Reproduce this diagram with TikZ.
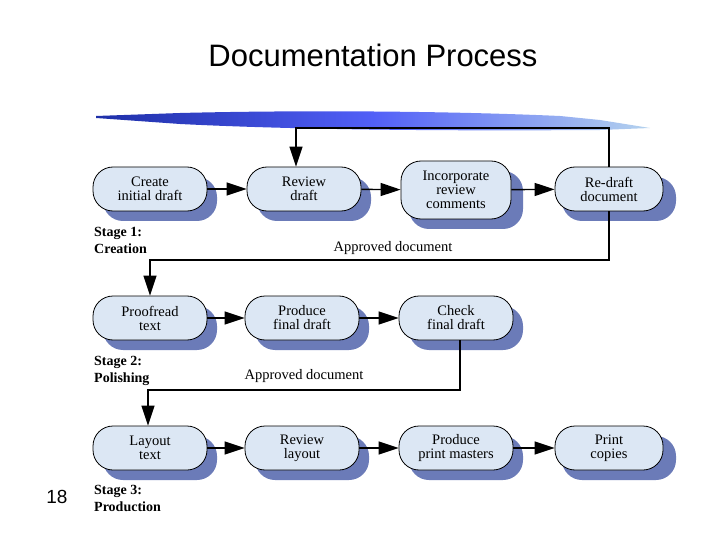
\documentclass[tikz,border=0pt]{standalone}
\usepackage{fontspec}
\setmainfont{Liberation Serif}
\newfontfamily\titlefont{Liberation Sans}
\usetikzlibrary{arrows.meta}
\definecolor{boxfill}{HTML}{DCE7F4}
\definecolor{shadowc}{HTML}{6B7BB8}
\definecolor{brushdark}{HTML}{1E2FA8}
\definecolor{brushlight}{HTML}{B5D3EE}
\tikzset{
  proc/.style={draw=black, line width=0.8pt, fill=boxfill, rounded corners=20pt,
    minimum width=114pt, minimum height=44pt, align=center, font=\fontsize{14.5}{14}\selectfont,
    inner sep=2pt},
  flow/.style={line width=1.4pt, -{Triangle[length=20pt,width=13pt]}},
  lbl/.style={font=\fontsize{14.5}{15}\selectfont},
  stage/.style={font=\bfseries\fontsize{14}{17}\selectfont, align=left, anchor=north west, inner sep=0pt}
}
\begin{document}
\begin{tikzpicture}[x=1pt,y=-1pt]
\useasboundingbox (0,0) rectangle (720,540);
\node[font=\titlefont\fontsize{31}{32}\selectfont] (title) at (373,55) {Documentation Process};
\node[font=\titlefont\fontsize{19}{19}\selectfont] (page) at (57,497) {18};
% brush
\shade[left color=brushdark, right color=brushlight, middle color=blue!55!brushlight]
  (96,116) -- (180,113) .. controls (300,110) and (450,111) .. (560,116)
  -- (600,120) -- (650,128) -- (600,130)
  .. controls (450,131) and (300,130) .. (180,124) -- (96,118) -- cycle;
% shadows
\foreach \x/\y/\h in {150/189/44, 304/189/44, 456/190/58, 609/189/44,
                      150/318/44, 302/318/44, 456/318/44,
                      150/448/44, 302/448/44, 456/448/44, 609/448/44}{
  \fill[shadowc, rounded corners=20pt] (\x-47,\y-\h/2+10) rectangle (\x+67,\y+\h/2+10);
}
\node[proc] (a1) at (150,189) {Create\\initial draft};
\node[proc] (a2) at (304,189) {Review\\draft};
\node[proc, minimum height=58pt, minimum width=110pt] (a3) at (456,190) {Incorporate\\review\\comments};
\node[proc, minimum width=108pt] (a4) at (609,189) {Re-draft\\document};
\node[proc] (b1) at (150,318) {Proofread\\text};
\node[proc] (b2) at (302,318) {Produce\\final draft};
\node[proc] (b3) at (456,318) {Check\\final draft};
\node[proc] (c1) at (150,448) {Layout\\text};
\node[proc] (c2) at (302,448) {Review\\layout};
\node[proc] (c3) at (456,448) {Produce\\print masters};
\node[proc, minimum width=108pt] (c4) at (609,448) {Print\\copies};
% arrows
\draw[flow] (a1) -- (a2);
\draw[flow] (a2) -- (a3);
\draw[flow] (a3) -- (a4);
\draw[flow] (b1) -- (b2);
\draw[flow] (b2) -- (b3);
\draw[flow] (c1) -- (c2);
\draw[flow] (c2) -- (c3);
\draw[flow] (c3) -- (c4);
\draw[flow] (a4.north) -- (609,128) -| (a2.north -| 296,0);
\draw[flow] (a4.south) -- (609,260) -| (b1.north);
\draw[flow] (b3.south -| 460,0) -- (460,390) -| (148,0 |- c1.north);
\node[lbl] (ap1) at (393,248) {Approved document};
\node[lbl] (ap2) at (304,376) {Approved document};
\node[stage] (s1) at (94,227) {Stage 1:\\Creation};
\node[stage] (s2) at (94,356) {Stage 2:\\Polishing};
\node[stage] (s3) at (94,485) {Stage 3:\\Production};
\end{tikzpicture}
\end{document}
